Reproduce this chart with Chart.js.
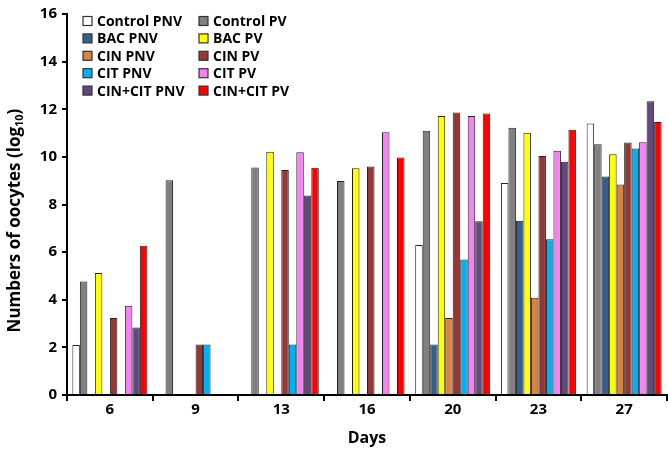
<!DOCTYPE html>
<html>
<head>
<meta charset="utf-8">
<script src="https://cdn.jsdelivr.net/npm/chart.js@4.4.1/dist/chart.umd.min.js"></script>
<style>
  html, body { margin: 0; padding: 0; background: #fff; }
  #wrap { width: 668px; height: 451px; }
</style>
</head>
<body>
<div id="wrap"><canvas id="chart" width="668" height="451"></canvas></div>
<script>
// days on the x axis
var days = ['6', '9', '13', '16', '20', '23', '27'];
var yTicks = [0, 2, 4, 6, 8, 10, 12, 14, 16];

// log10 oocyte counts per treatment
var controlPNV = [2.1, 0, 0, 0, 6.3, 8.9, 11.4];
var controlPV  = [4.77, 9.02, 9.55, 8.99, 11.1, 11.22, 10.53];
var bacPNV     = [0, 0, 0, 0, 2.12, 7.32, 9.18];
var bacPV      = [5.12, 0, 10.22, 9.52, 11.72, 11.01, 10.11];
var cinPNV     = [0, 0, 0, 0, 3.23, 4.08, 8.84];
var cinPV      = [3.23, 2.12, 9.45, 9.6, 11.86, 10.04, 10.6];
var citPNV     = [0, 2.12, 2.12, 0, 5.69, 6.54, 10.35];
var citPV      = [3.75, 0, 10.19, 11.03, 11.72, 10.26, 10.61];
var cincitPNV  = [2.83, 0, 8.38, 0, 7.3, 9.8, 12.34];
var cincitPV   = [6.27, 0, 9.54, 9.97, 11.82, 11.14, 11.46];

var seriesNames = ['Control PNV', 'Control PV', 'BAC PNV', 'BAC PV', 'CIN PNV', 'CIN PV',
                   'CIT PNV', 'CIT PV', 'CIN+CIT PNV', 'CIN+CIT PV'];
var seriesData = [controlPNV, controlPV, bacPNV, bacPV, cinPNV, cinPV, citPNV, citPV, cincitPNV, cincitPV];
var seriesColors = ['#ffffff', '#808080', '#34608f', '#ffff00', '#d9843f', '#953735',
                    '#00b0f0', '#f482f0', '#604a7b', '#ff0000'];

var FONT = '"Open Sans", Lato, sans-serif';

var datasets = seriesNames.map(function (name, i) {
    return {
        label: name,
        data: seriesData[i],
        backgroundColor: seriesColors[i],
        borderColor: '#222',
        borderWidth: 1,
        borderSkipped: 'start',
        barPercentage: 1.0,
        categoryPercentage: 0.875
    };
});

// legend drawn inside the plot, two columns
var innerLegend = {
    id: 'innerLegend',
    afterDraw: function (chart) {
        var ctx = chart.ctx;
        var area = chart.chartArea;
        ctx.save();
        ctx.font = 'bold 14px ' + FONT;
        ctx.textBaseline = 'middle';
        ctx.textAlign = 'left';
        chart.data.datasets.forEach(function (ds, i) {
            var col = i % 2, row = Math.floor(i / 2);
            var x = area.left + 16 + col * 116;
            var y = area.top + 7 + row * 17.4;
            ctx.fillStyle = ds.backgroundColor;
            ctx.fillRect(x, y - 4.5, 9, 9);
            ctx.strokeStyle = '#333';
            ctx.lineWidth = 1.2;
            ctx.strokeRect(x, y - 4.5, 9, 9);
            ctx.fillStyle = '#000';
            ctx.fillText(ds.label, x + 14, y + 1);
        });
        ctx.restore();
    }
};

// y axis title with subscript
var yTitle = {
    id: 'yTitle',
    afterDraw: function (chart) {
        var ctx = chart.ctx;
        var area = chart.chartArea;
        ctx.save();
        ctx.translate(15, (area.top + area.bottom) / 2 + 16);
        ctx.rotate(-Math.PI / 2);
        ctx.fillStyle = '#000';
        ctx.textBaseline = 'middle';
        var main = 'Numbers of oocytes (log';
        var big = 'bold 17px ' + FONT, small = 'bold 11px ' + FONT;
        ctx.font = big;
        var w1 = ctx.measureText(main).width;
        ctx.font = small;
        var w2 = ctx.measureText('10').width;
        ctx.font = big;
        var w3 = ctx.measureText(')').width;
        var x = -(w1 + w2 + w3) / 2;
        ctx.textAlign = 'left';
        ctx.fillText(main, x, 0);
        ctx.font = small;
        ctx.fillText('10', x + w1, 5);
        ctx.font = big;
        ctx.fillText(')', x + w1 + w2, 0);
        ctx.restore();
    }
};

var ctx = document.getElementById('chart').getContext('2d');
var chart = new Chart(ctx, {
    type: 'bar',
    data: { labels: days, datasets: datasets },
    plugins: [innerLegend, yTitle],
    options: {
        responsive: false,
        animation: false,
        layout: { padding: { top: 12, right: 1, left: 0, bottom: 0 } },
        plugins: { legend: { display: false }, tooltip: { enabled: false } },
        scales: {
            x: {
                grid: { drawOnChartArea: false, drawTicks: true, tickLength: 6, color: '#000', lineWidth: 2 },
                border: { color: '#000', width: 2 },
                ticks: { color: '#000', font: { family: FONT, size: 15, weight: 'bold' }, padding: 0 },
                title: { display: true, text: 'Days', color: '#000', font: { family: FONT, size: 16, weight: 'bold' }, padding: { top: 0, bottom: 3 } },
                afterFit: function (s) { s.height = 56; }
            },
            y: {
                min: 0,
                max: 16,
                afterBuildTicks: function (s) { s.ticks = yTicks.map(function (v) { return { value: v }; }); },
                grid: { drawOnChartArea: false, drawTicks: true, tickLength: 5, color: '#000', lineWidth: 2 },
                border: { color: '#000', width: 2 },
                ticks: { color: '#000', font: { family: FONT, size: 15, weight: 'bold' }, padding: 5 },
                afterFit: function (s) { s.width = 67; }
            }
        }
    }
});
</script>
</body>
</html>
